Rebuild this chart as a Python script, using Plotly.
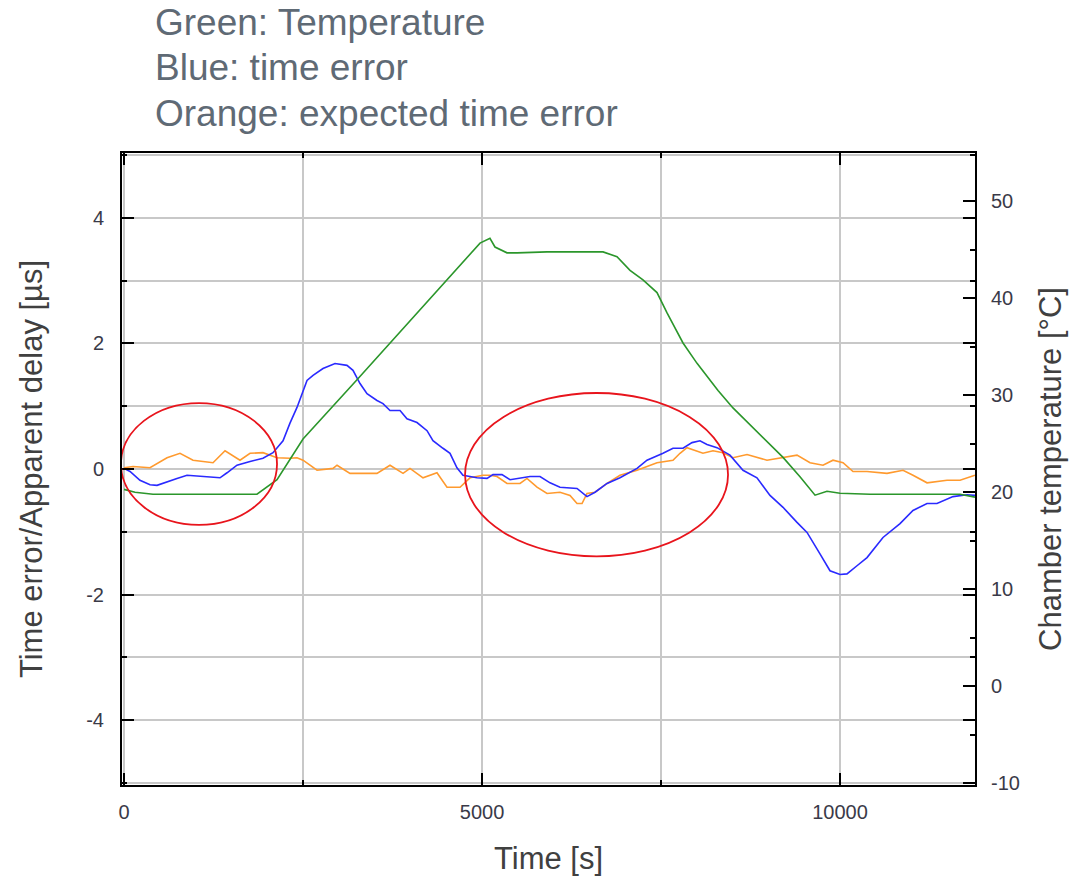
import plotly.graph_objects as go

# Chamber temperature log [°C]
temp_t = [0, 154, 405, 1857, 2137, 2500, 3254, 4972, 5111, 5181, 5349, 5489, 5908,
          6690, 6885, 7067, 7248, 7444, 7584, 7807, 8003, 8296, 8505, 9204, 9441,
          9651, 9818, 10000, 10419, 11676, 11885]
temp_c = [20.3, 20.0, 19.8, 19.8, 21.3, 25.5, 31.6, 45.7, 46.2, 45.3, 44.7, 44.7, 44.8,
          44.8, 44.3, 42.9, 41.9, 40.6, 38.5, 35.4, 33.3, 30.5, 28.7, 23.6, 21.6,
          19.7, 20.1, 19.9, 19.8, 19.8, 19.5]

# Measured time error [µs]
err_t = [0, 84, 223, 363, 461, 601, 740, 880, 1061, 1341, 1439, 1578, 1760, 1941,
         2081, 2221, 2318, 2416, 2556, 2640, 2779, 2947, 3114, 3198, 3296, 3394,
         3533, 3617, 3715, 3855, 3952, 4092, 4232, 4315, 4455, 4553, 4650, 4734,
         4930, 5070, 5153, 5279, 5391, 5531, 5670, 5810, 5950, 6089, 6327, 6466,
         6578, 6746, 6927, 7165, 7304, 7528, 7667, 7807, 7933, 8044, 8142, 8282,
         8463, 8645, 8840, 9022, 9204, 9399, 9539, 9720, 9860, 10000, 10097,
         10237, 10377, 10600, 10838, 11019, 11215, 11354, 11578, 11773, 11885]
err_us = [0.01, -0.04, -0.18, -0.25, -0.26, -0.20, -0.15, -0.10, -0.12, -0.14, -0.06,
          0.06, 0.12, 0.17, 0.26, 0.45, 0.73, 0.98, 1.41, 1.49, 1.60, 1.68, 1.65,
          1.57, 1.36, 1.20, 1.09, 1.04, 0.93, 0.93, 0.80, 0.74, 0.61, 0.45, 0.33,
          0.25, 0.02, -0.10, -0.14, -0.15, -0.09, -0.09, -0.17, -0.14, -0.12, -0.12,
          -0.22, -0.29, -0.31, -0.44, -0.37, -0.23, -0.14, 0.01, 0.14, 0.25, 0.33,
          0.33, 0.42, 0.45, 0.39, 0.34, 0.22, -0.02, -0.14, -0.42, -0.61, -0.85,
          -1.01, -1.35, -1.62, -1.68, -1.67, -1.54, -1.41, -1.09, -0.87, -0.66,
          -0.55, -0.55, -0.44, -0.41, -0.42]

# Expected time error [µs]
exp_t = [0, 126, 363, 601, 782, 964, 1243, 1411, 1620, 1760, 1941, 2137, 2318, 2416,
         2500, 2696, 2919, 2975, 3156, 3533, 3715, 3897, 3994, 4176, 4371, 4511,
         4693, 4832, 5014, 5111, 5209, 5349, 5531, 5628, 5768, 5908, 6089, 6229,
         6327, 6397, 6466, 6578, 6746, 6927, 7165, 7444, 7667, 7765, 7863, 8003,
         8086, 8226, 8366, 8505, 8701, 8980, 9204, 9399, 9581, 9762, 9902, 10042,
         10181, 10377, 10656, 10880, 11019, 11215, 11494, 11676, 11885]
exp_us = [0.02, 0.04, 0.02, 0.18, 0.25, 0.14, 0.10, 0.29, 0.14, 0.25, 0.26, 0.18,
          0.17, 0.18, 0.14, -0.02, 0.01, 0.06, -0.07, -0.07, 0.06, -0.07, 0.01,
          -0.14, -0.06, -0.29, -0.29, -0.14, -0.10, -0.10, -0.12, -0.23, -0.23,
          -0.15, -0.29, -0.39, -0.37, -0.42, -0.55, -0.55, -0.39, -0.37, -0.23,
          -0.10, -0.02, 0.10, 0.14, 0.25, 0.34, 0.29, 0.25, 0.29, 0.26, 0.18, 0.23,
          0.14, 0.18, 0.22, 0.10, 0.06, 0.14, 0.10, -0.04, -0.04, -0.07, -0.02,
          -0.10, -0.22, -0.18, -0.18, -0.10]

# Highlighted regions (time span, error span)
region_x = [[-42, 2137], [4763, 8436]]
region_y = [[-0.89, 1.05], [-1.39, 1.21]]

heading = ["Green: Temperature", "Blue: time error", "Orange: expected time error"]

left_ticks = [-4, -2, 0, 2, 4]
right_ticks = [-10, 0, 10, 20, 30, 40, 50]
x_ticks = [0, 5000, 10000]

FONT = "Liberation Sans, Arial, sans-serif"
GRID = "#c8c8c8"
TICKFONT = dict(family=FONT, size=20, color="#3a3a48")
TITLEFONT = dict(family=FONT, size=31, color="#404040")

fig = go.Figure()

fig.add_trace(go.Scatter(x=exp_t, y=exp_us, mode="lines",
                         line=dict(color="#ff9a2e", width=1.6), name="expected"))
fig.add_trace(go.Scatter(x=err_t, y=err_us, mode="lines",
                         line=dict(color="#2a2aff", width=1.6), name="time error"))
fig.add_trace(go.Scatter(x=temp_t, y=temp_c, mode="lines", yaxis="y2",
                         line=dict(color="#2b962b", width=1.6), name="temperature"))

for (x0, x1), (y0, y1) in zip(region_x, region_y):
    fig.add_shape(type="circle", xref="x", yref="y", x0=x0, x1=x1, y0=y0, y1=y1,
                  line=dict(color="#e8141c", width=1.8), layer="above")

for i, txt in enumerate(heading):
    fig.add_annotation(text=txt, xref="paper", yref="paper", x=0.0363,
                       y=1.0 + (131 - 45.5 * i) / 632, xanchor="left",
                       yanchor="middle", showarrow=False,
                       font=dict(family=FONT, size=37, color="#5f6a75"))

fig.update_layout(
    width=1078, height=876,
    margin=dict(l=122, r=103, t=153, b=91),
    paper_bgcolor="white", plot_bgcolor="white",
    showlegend=False,
    xaxis=dict(
        range=[-28, 11885], tickvals=x_ticks, ticktext=[str(v) for v in x_ticks],
        ticks="inside", ticklen=12, tickwidth=2, tickcolor="black",
        minor=dict(dtick=2500, tick0=0, ticks="inside", ticklen=5, tickwidth=2,
                   tickcolor="black", showgrid=True, gridcolor=GRID, gridwidth=2),
        showgrid=True, gridcolor=GRID, gridwidth=2,
        showline=True, linecolor="black", linewidth=2, mirror="ticks",
        zeroline=False, tickfont=TICKFONT, ticklabelstandoff=8, automargin=False,
        title=dict(text="Time [s]", font=TITLEFONT, standoff=26),
    ),
    yaxis=dict(
        range=[-5.03, 5.03], tickvals=left_ticks, ticktext=[str(v) for v in left_ticks],
        ticks="inside", ticklen=12, tickwidth=2, tickcolor="black",
        minor=dict(dtick=1, tick0=0, ticks="inside", ticklen=5, tickwidth=2,
                   tickcolor="black", showgrid=True, gridcolor=GRID, gridwidth=2),
        showgrid=True, gridcolor=GRID, gridwidth=2,
        showline=True, linecolor="black", linewidth=2, mirror="ticks",
        zeroline=False, tickfont=TICKFONT, ticklabelstandoff=12, automargin=False,
        title=dict(text="Time error/Apparent delay [µs]", font=TITLEFONT, standoff=34),
    ),
    yaxis2=dict(
        overlaying="y", side="right", range=[-10.2, 55],
        tickvals=right_ticks, ticktext=[str(v) for v in right_ticks],
        ticks="inside", ticklen=12, tickwidth=2, tickcolor="black",
        minor=dict(dtick=5, tick0=0, ticks="inside", ticklen=5, tickwidth=2,
                   tickcolor="black", showgrid=False),
        showgrid=False, showline=True, linecolor="black", linewidth=2,
        zeroline=False, tickfont=TICKFONT, ticklabelstandoff=10, automargin=False,
        title=dict(text="Chamber temperature [°C]", font=TITLEFONT, standoff=20),
    ),
)

fig.write_html("out.html")
